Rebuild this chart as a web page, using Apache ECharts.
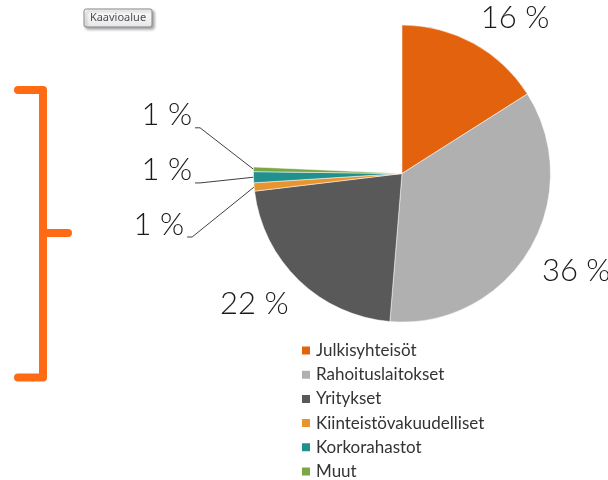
<!DOCTYPE html>
<html>
<head>
<meta charset="utf-8">
<script src="https://cdn.jsdelivr.net/npm/echarts@6/dist/echarts.min.js"></script>
<style>
html,body{margin:0;padding:0;background:#ffffff;}
#chart{width:608px;height:480px;}
</style>
</head>
<body>
<div id="chart"></div>
<script>
// ---- data ----
const categories = ['Julkisyhteisöt', 'Rahoituslaitokset', 'Yritykset', 'Kiinteistövakuudelliset', 'Korkorahastot', 'Muut'];
const shares = [16.0, 35.3, 21.8, 0.9, 1.2, 0.5];
const shareLabels = ['16 %', '36 %', '22 %', '1 %', '1 %', '1 %'];
const emptyShare = [24.3]; // part of the circle left blank in the picture
const sliceColors = ['#E2620E', '#B0B0B0', '#595959', '#E8952F', '#22908E', '#78A845'];
const buttonText = 'Kaavioalue';

// ---- layout / style ----
const CX = 402, CY = 173.5, R = 148.5;
const LABEL_FONT = '300 31px Lato';
const measureCtx = document.createElement('canvas').getContext('2d');
function textWidth(t) { measureCtx.font = LABEL_FONT; return measureCtx.measureText(t).width; }
// small slices: label offset (right edge, middle) from the slice's edge point
const smallLabelOffsets = { 3: [-70, 37.5], 4: [-61.5, -6.8], 5: [-61.5, -54] };

const pieData = categories.map((name, i) => ({
  name: name,
  value: shares[i],
  itemStyle: { color: sliceColors[i] },
  labelLine: i < 3 ? { lineStyle: { opacity: 0 } } : {}
})).concat([{
  name: '',
  value: emptyShare[0],
  itemStyle: { color: 'rgba(0,0,0,0)', borderWidth: 0 },
  label: { show: false },
  labelLine: { show: false }
}]);

const chart = echarts.init(document.getElementById('chart'), null, { renderer: 'canvas' });
chart.setOption({
  animation: false,
  backgroundColor: '#ffffff',
  legend: {
    data: categories,
    orient: 'vertical',
    left: 300,
    top: 342,
    height: 160,
    padding: 0,
    itemWidth: 10,
    itemHeight: 10,
    itemGap: 7.2,
    icon: 'rect',
    selectedMode: false,
    textStyle: { fontFamily: 'Lato', fontSize: 17, lineHeight: 16, color: '#333333' }
  },
  graphic: [
    {
      type: 'polyline',
      shape: { points: [[18, 90], [43, 90], [43, 377.5], [18, 377.5]] },
      style: { fill: null, stroke: '#FF6B14', lineWidth: 8, lineJoin: 'round', lineCap: 'round' }
    },
    {
      type: 'line',
      shape: { x1: 43, y1: 233, x2: 68, y2: 233 },
      style: { stroke: '#FF6B14', lineWidth: 8, lineCap: 'round' }
    },
    {
      type: 'rect',
      shape: { x: 84, y: 9, width: 68, height: 18, r: 2 },
      style: {
        fill: new echarts.graphic.LinearGradient(0, 0, 0, 1, [
          { offset: 0, color: '#ffffff' }, { offset: 1, color: '#e6e6ea' }
        ]),
        stroke: '#8a8a8a', lineWidth: 1,
        shadowBlur: 3, shadowOffsetX: 2, shadowOffsetY: 2, shadowColor: 'rgba(0,0,0,0.35)'
      }
    },
    {
      type: 'text',
      x: 118, y: 18,
      style: { text: buttonText, font: '11px "Noto Sans"', fill: '#4d4d4d', align: 'center', verticalAlign: 'middle' }
    }
  ],
  series: [{
    type: 'pie',
    center: [CX, CY],
    radius: R,
    startAngle: 90,
    clockwise: true,
    avoidLabelOverlap: false,
    emphasis: { disabled: true },
    silent: true,
    itemStyle: { borderColor: '#ffffff', borderWidth: 0.5 },
    label: {
      show: true,
      position: 'outside',
      formatter: p => shareLabels[p.dataIndex],
      fontFamily: 'Lato',
      fontWeight: 300,
      fontSize: 31,
      color: '#1a1a1a',
      width: 80,
      overflow: 'none'
    },
    labelLine: {
      show: true,
      length: 5,
      length2: 5,
      lineStyle: { color: '#404040', width: 1 }
    },
    labelLayout: function (params) {
      const i = params.dataIndex;
      if (i >= categories.length || !params.labelLinePoints) return {};
      const p0 = params.labelLinePoints[0];
      if (i < 3) {
        const vx = p0[0] - CX, vy = p0[1] - CY;
        const len = Math.hypot(vx, vy);
        const ux = vx / len, uy = vy / len;
        const w = textWidth(shareLabels[i]);
        const h = 25, gap = 15;
        return {
          x: p0[0] + ux * gap + Math.sign(ux) * w / 2,
          y: p0[1] + uy * gap + Math.sign(uy) * h / 2,
          align: 'center',
          verticalAlign: 'middle',
          labelLinePoints: [p0, p0, p0]
        };
      }
      const off = smallLabelOffsets[i];
      const rx = p0[0] + off[0];
      const my = p0[1] + off[1];
      return {
        x: rx,
        y: my,
        align: 'right',
        verticalAlign: 'middle',
        labelLinePoints: [p0, [rx + 8, my + 12.5], [rx + 3, my + 12.5]]
      };
    },
    data: pieData
  }]
});
</script>
</body>
</html>
